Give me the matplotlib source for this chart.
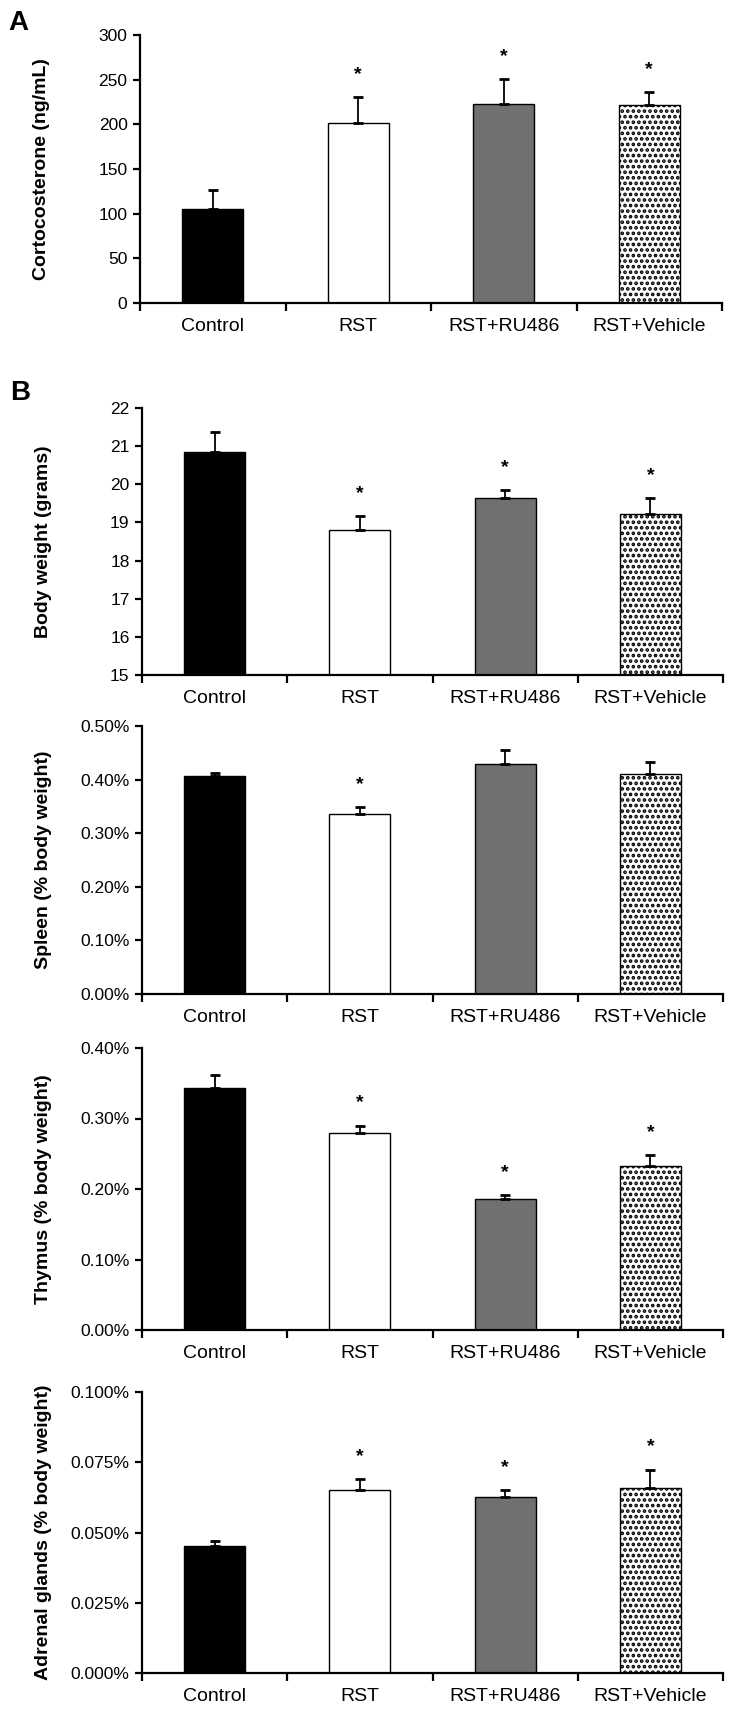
import numpy as np
import matplotlib.pyplot as plt
from matplotlib.ticker import FixedLocator, PercentFormatter

plt.rcParams['font.family'] = ['Liberation Sans', 'DejaVu Sans']
plt.rcParams['hatch.linewidth'] = 1.8

groups = ["Control", "RST", "RST+RU486", "RST+Vehicle"]

cort = [105, 202, 223, 222]
cort_err = [21, 29, 28, 14]
cort_sig = [False, True, True, True]

body = [20.84, 18.81, 19.64, 19.23]
body_err = [0.52, 0.35, 0.21, 0.41]
body_sig = [False, True, True, True]

spleen = [0.406, 0.336, 0.430, 0.410]
spleen_err = [0.007, 0.013, 0.025, 0.022]
spleen_sig = [False, True, False, False]

thymus = [0.343, 0.279, 0.186, 0.232]
thymus_err = [0.019, 0.011, 0.006, 0.016]
thymus_sig = [False, True, True, True]

adrenal = [0.0452, 0.0650, 0.0627, 0.0660]
adrenal_err = [0.0018, 0.0039, 0.0025, 0.0064]
adrenal_sig = [False, True, True, True]

W, H = 734, 1710
fig = plt.figure(figsize=(W / 100, H / 100), dpi=100)

# (left, right, top, bottom) in pixels
boxes = [(140, 722, 35, 303), (142, 723, 408, 675), (142, 723, 726, 994),
         (142, 723, 1048, 1330), (142, 723, 1392, 1673)]


def make_ax(box):
    l, r, t, b = box
    return fig.add_axes([l / W, 1 - b / H, (r - l) / W, (b - t) / H])


def panel(ax, vals, errs, sig, ylim, yticks, ylabel, fmt=None):
    x = np.arange(1, 5)
    bars = ax.bar(x, [v - ylim[0] for v in vals], bottom=ylim[0], width=0.42,
                  color=['black', 'white', '#707070', 'white'],
                  edgecolor='black', linewidth=1.0, zorder=2)
    bars[3].set_hatch('...')
    ax.errorbar(x, vals, yerr=[[0] * 4, errs], fmt='none', ecolor='black',
                elinewidth=1.3, capsize=3.3, capthick=2.0, zorder=3)
    for xi, v, e, s in zip(x, vals, errs, sig):
        if s:
            ax.annotate('*', xy=(xi, v + e), xytext=(0, 18),
                        textcoords='offset pixels', ha='center', va='baseline',
                        fontsize=14, fontweight='bold')
    ax.set_xlim(0.5, 4.5)
    ax.set_ylim(*ylim)
    ax.set_yticks(yticks)
    if fmt is not None:
        ax.yaxis.set_major_formatter(fmt)
    ax.set_xticks(x)
    ax.set_xticklabels(groups, fontsize=14)
    ax.xaxis.set_minor_locator(FixedLocator([0.5, 1.5, 2.5, 3.5, 4.5]))
    ax.tick_params(axis='x', which='major', length=0, pad=11)
    ax.tick_params(axis='x', which='minor', length=6, width=1.6, direction='out')
    ax.tick_params(axis='y', length=5, width=1.6, labelsize=12.5, pad=4)
    for s in ['top', 'right']:
        ax.spines[s].set_visible(False)
    for s in ['left', 'bottom']:
        ax.spines[s].set_linewidth(1.6)
    ax.set_ylabel(ylabel, fontsize=14, fontweight='bold')
    ax.yaxis.set_label_coords(-0.155, 0.5)


ax = make_ax(boxes[0])
panel(ax, cort, cort_err, cort_sig, (0, 300), range(0, 301, 50),
      "Cortocosterone (ng/mL)")

ax = make_ax(boxes[1])
panel(ax, body, body_err, body_sig, (15, 22), range(15, 23),
      "Body weight (grams)")

ax = make_ax(boxes[2])
panel(ax, spleen, spleen_err, spleen_sig, (0, 0.5), np.arange(0, 0.51, 0.1),
      "Spleen (% body weight)", PercentFormatter(decimals=2))

ax = make_ax(boxes[3])
panel(ax, thymus, thymus_err, thymus_sig, (0, 0.4), np.arange(0, 0.41, 0.1),
      "Thymus (% body weight)", PercentFormatter(decimals=2))

ax = make_ax(boxes[4])
panel(ax, adrenal, adrenal_err, adrenal_sig, (0, 0.1), np.arange(0, 0.101, 0.025),
      "Adrenal glands (% body weight)", PercentFormatter(decimals=3))

fig.text(8 / W, 1 - 30 / H, "A", fontsize=20, fontweight='bold')
fig.text(10 / W, 1 - 400 / H, "B", fontsize=20, fontweight='bold')

fig.savefig("out.png", dpi=100)
